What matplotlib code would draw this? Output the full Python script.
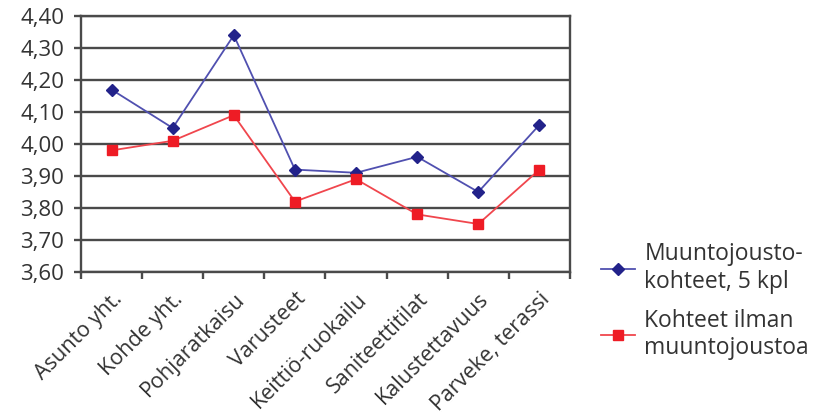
import matplotlib
matplotlib.use("Agg")
import matplotlib.pyplot as plt
from matplotlib.ticker import FuncFormatter

plt.rcParams['font.family'] = ['Open Sans', 'DejaVu Sans']

# Data
categories = ["Asunto yht.", "Kohde yht.", "Pohjaratkaisu", "Varusteet",
              "Keittiö-ruokailu", "Saniteettitilat", "Kalustettavuus",
              "Parveke, terassi"]
muuntojousto = [4.17, 4.05, 4.34, 3.92, 3.91, 3.96, 3.85, 4.06]
ilman = [3.98, 4.01, 4.09, 3.82, 3.89, 3.78, 3.75, 3.92]
yticks = [3.60, 3.70, 3.80, 3.90, 4.00, 4.10, 4.20, 4.30, 4.40]

txt = "#333333"
grid = "#4a4a4a"

fig = plt.figure(figsize=(8.23, 4.20), dpi=100)
ax = fig.add_axes([0.0984, 0.3524, 0.5942, 0.6095])

x = list(range(len(categories)))
ax.plot(x, muuntojousto, color="#5050b0", lw=1.3, marker="D", ms=6.5,
        mfc="#22228a", mec="#22228a", label="Muuntojousto-\nkohteet, 5 kpl", zorder=3)
ax.plot(x, ilman, color="#f0464d", lw=1.3, marker="s", ms=6.5,
        mfc="#ee1c25", mec="#ee1c25", label="Kohteet ilman\nmuuntojoustoa", zorder=3)

ax.set_xlim(-0.5, len(categories) - 0.5)
ax.set_ylim(3.60, 4.40)
ax.set_yticks(yticks)
ax.yaxis.set_major_formatter(FuncFormatter(lambda v, p: f"{v:.2f}".replace(".", ",")))
ax.grid(axis="y", color=grid, lw=1.7)
ax.set_axisbelow(True)

# category ticks at bin edges, labels at the centres
ax.set_xticks([i - 0.5 for i in range(len(categories) + 1)])
ax.set_xticklabels([])
ax.set_xticks(x, minor=True)
ax.set_xticklabels(categories, minor=True, rotation=45, ha="right",
                   rotation_mode="anchor", fontsize=15.5, color=txt)
ax.tick_params(axis="x", which="minor", length=0, pad=12)
ax.tick_params(axis="x", which="major", length=5, width=1.7, color=grid)
ax.tick_params(axis="y", length=5, width=1.7, color=grid, labelsize=16,
               labelcolor=txt, pad=7)

for s in ax.spines.values():
    s.set_color(grid)
    s.set_linewidth(1.7)

fig.legend(loc="center left", bbox_to_anchor=(0.705, 0.283), frameon=False,
           fontsize=16.5, handlelength=1.5, labelspacing=0.65, labelcolor=txt,
           handletextpad=0.4)

fig.savefig("out.png", dpi=100)
